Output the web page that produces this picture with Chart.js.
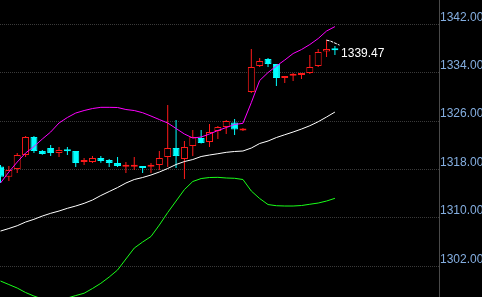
<!DOCTYPE html>
<html>
<head>
<meta charset="utf-8">
<script src="https://cdn.jsdelivr.net/npm/chart.js@4/dist/chart.umd.min.js"></script>
<style>
  html, body { margin: 0; padding: 0; background: #000; }
  #wrap { width: 482px; height: 297px; position: relative; }
</style>
</head>
<body>
<div id="wrap"><canvas id="c" width="482" height="297"></canvas></div>
<script>
// ---- data ----
const openP  = [1318.50,1316.81,1318.08,1320.40,1323.37,1321.06,1321.55,1320.73,1321.06,1321.06,
                1319.24,1319.24,1319.90,1319.57,1319.07,1318.45,1318.45,1318.58,1318.45,1318.74,
                1320.07,1321.55,1319.74,1321.88,1323.21,1322.55,1324.36,1325.02,1325.77,1324.45,
                1330.81,1335.11,1336.26,1335.44,1333.12,1333.48,1333.62,1333.95,1335.11,1337.50,
                1337.78];
const highP  = [1318.74,1318.58,1320.73,1323.54,1323.54,1321.22,1322.05,1321.72,1321.72,1321.06,
                1319.90,1320.23,1320.23,1319.74,1320.07,1319.24,1320.07,1318.60,1319.07,1321.06,
                1328.66,1326.18,1322.71,1324.53,1324.53,1325.52,1325.19,1326.18,1326.35,1324.86,
                1337.92,1336.43,1336.43,1335.44,1333.29,1333.95,1333.95,1336.93,1337.92,1339.47,
                1338.41];
const lowP   = [1315.77,1316.10,1317.42,1320.07,1320.73,1320.45,1320.23,1320.07,1320.40,1318.41,
                1318.74,1319.07,1319.12,1318.41,1318.41,1317.42,1317.92,1317.42,1317.42,1317.92,
                1318.41,1318.25,1316.43,1320.23,1322.30,1321.72,1323.04,1323.87,1323.70,1324.36,
                1330.64,1334.94,1334.94,1331.80,1332.30,1332.63,1332.96,1333.79,1334.94,1336.60,
                1336.93];
const closeP = [1316.81,1317.92,1320.40,1323.37,1321.06,1320.56,1320.73,1321.22,1321.00,1319.07,
                1319.28,1319.90,1319.40,1319.07,1318.58,1318.50,1318.50,1318.25,1318.50,1319.90,
                1321.55,1320.23,1321.72,1323.37,1322.38,1324.20,1325.02,1326.02,1324.61,1324.74,
                1334.94,1335.93,1335.44,1333.12,1333.29,1333.52,1333.95,1334.94,1337.42,1337.92,
                1337.72];
const upperBand = [1315.77,1317.59,1319.24,1320.73,1321.80,1323.04,1324.20,1325.69,1326.60,1327.34,
                   1327.75,1328.08,1328.28,1328.28,1328.25,1327.92,1327.75,1327.39,1326.84,1326.26,
                   1325.69,1324.78,1323.87,1323.21,1323.37,1323.87,1324.45,1324.94,1325.44,1325.64,
                   1329.06,1332.71,1334.03,1335.11,1336.10,1337.17,1337.83,1338.66,1339.65,1340.89,
                   1341.62];
const midBand   = [1307.83,1308.25,1308.71,1309.32,1309.77,1310.31,1310.76,1311.14,1311.59,1311.97,
                   1312.41,1312.96,1313.70,1314.36,1315.02,1315.77,1316.35,1316.68,1317.09,1317.59,
                   1318.17,1318.83,1319.32,1319.65,1320.15,1320.40,1320.61,1320.84,1320.98,1321.06,
                   1321.55,1322.30,1322.71,1323.29,1323.75,1324.20,1324.69,1325.24,1325.90,1326.68,
                   1327.50];
const lowerBand = [1299.57,1298.99,1298.41,1297.67,1297.09,1296.60,1296.35,1296.43,1296.76,1297.17,
                   1297.55,1298.33,1299.19,1300.23,1301.39,1303.21,1305.02,1306.02,1306.93,1308.83,
                   1310.89,1312.79,1314.69,1316.02,1316.51,1316.68,1316.71,1316.60,1316.55,1316.35,
                   1314.45,1313.21,1312.21,1312.02,1311.97,1311.97,1312.05,1312.26,1312.46,1312.79,
                   1313.24];
const yTicks = [1302, 1310, 1318, 1326, 1334, 1342];
const markIndex = 39;   // candle carrying the labelled high

const RED = '#ff1a1a', CYAN = '#00ffff';
const idx = openP.map((_, i) => i);
const isUp = i => closeP[i] >= openP[i];

const markPlugin = {
  id: 'highMark',
  afterDatasetsDraw(chart) {
    const xs = chart.scales.x, ys = chart.scales.y, ctx = chart.ctx;
    const px = xs.getPixelForValue(markIndex), py = ys.getPixelForValue(highP[markIndex]);
    ctx.save();
    ctx.strokeStyle = '#ffffff';
    ctx.lineWidth = 1;
    ctx.setLineDash([3, 1]);
    ctx.beginPath();
    ctx.moveTo(px, py + 0.5);
    ctx.lineTo(px + 4, py + 1.5);
    ctx.lineTo(px + 13, py + 5.5);
    ctx.stroke();
    ctx.setLineDash([]);
    ctx.fillStyle = '#ffffff';
    ctx.font = '12px "Liberation Sans", Arial, sans-serif';
    ctx.textAlign = 'left';
    ctx.textBaseline = 'middle';
    ctx.fillText(highP[markIndex].toFixed(2), px + 14.5, py + 14);
    ctx.restore();
  }
};

new Chart(document.getElementById('c'), {
  type: 'bar',
  data: {
    datasets: [
      {
        type: 'line', label: 'UP', order: 1,
        data: idx.map(i => ({x: i, y: upperBand[i]})),
        borderColor: '#ff00ff', borderWidth: 1, pointRadius: 0, tension: 0, fill: false
      },
      {
        type: 'line', label: 'MID', order: 1,
        data: idx.map(i => ({x: i, y: midBand[i]})),
        borderColor: '#ffffff', borderWidth: 1, pointRadius: 0, tension: 0, fill: false
      },
      {
        type: 'line', label: 'LOW', order: 1,
        data: idx.map(i => ({x: i, y: lowerBand[i]})),
        borderColor: '#19ff19', borderWidth: 1, pointRadius: 0, tension: 0, fill: false
      },
      {
        label: 'body', order: 2, grouped: false,
        data: idx.map(i => ({x: i, y: [openP[i], closeP[i]]})),
        backgroundColor: c => isUp(c.dataIndex) ? '#000000' : CYAN,
        borderColor: c => isUp(c.dataIndex) ? RED : CYAN,
        borderWidth: 1, borderSkipped: false, barThickness: 7, minBarLength: 2, inflateAmount: 0
      },
      {
        label: 'wick', order: 3, grouped: false,
        data: idx.map(i => ({x: i, y: [lowP[i], highP[i]]})),
        backgroundColor: c => isUp(c.dataIndex) ? RED : CYAN,
        borderWidth: 0, borderSkipped: false, barThickness: 1, inflateAmount: 0
      }
    ]
  },
  options: {
    responsive: false,
    animation: false,
    events: [],
    layout: { padding: 0 },
    plugins: { legend: { display: false }, tooltip: { enabled: false } },
    scales: {
      x: {
        type: 'linear', min: -0.06, max: 52.45, offset: false,
        afterBuildTicks: s => { s.ticks = [{value: s.min}]; },
        afterFit: s => { s.height = 0; s.paddingLeft = 0; s.paddingRight = 0; s.paddingTop = 0; s.paddingBottom = 0; },
        ticks: { display: false },
        grid: { color: '#3a3a3a', drawTicks: false, borderDash: [1, 1] },
        border: { display: false, dash: [1, 1] }
      },
      y: {
        type: 'linear', position: 'right', min: 1296.93, max: 1346.02,
        afterBuildTicks: s => { s.ticks = yTicks.map(v => ({value: v})); },
        afterFit: s => { s.width = 43; s.paddingTop = 0; s.paddingBottom = 0; s.paddingLeft = 0; s.paddingRight = 0; },
        ticks: {
          color: '#84aee0', padding: 1, labelOffset: -7,
          font: { family: '"Liberation Sans", Arial, sans-serif', size: 12 },
          callback: v => Number(v).toFixed(2)
        },
        grid: { color: '#3a3a3a', drawTicks: false, borderDash: [1, 1] },
        border: { display: true, color: '#4a4a4a', width: 1, dash: [1, 1] }
      }
    }
  },
  plugins: [markPlugin]
});
</script>
</body>
</html>
